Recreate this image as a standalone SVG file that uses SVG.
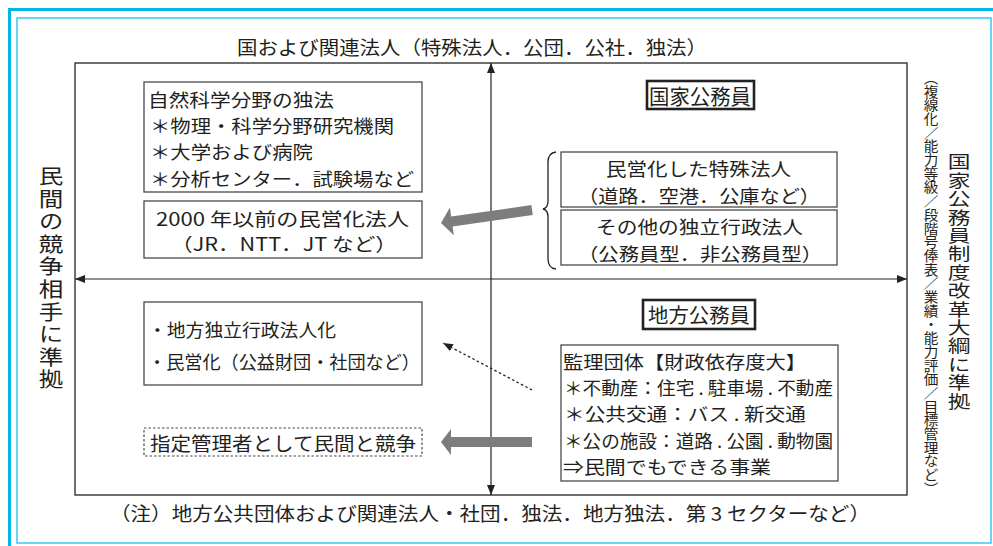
<svg xmlns="http://www.w3.org/2000/svg" width="993" height="546" viewBox="0 0 993 546">
<style>
text{font-family:"Noto Sans CJK JP","Noto Sans CJK SC",sans-serif;fill:#231f20}
.t18{font-size:18px}
.t19{font-size:19px}
.box{fill:#fff;stroke:#4a4a4a;stroke-width:1.3}
.dbox{fill:#fff;stroke:#4a4a4a;stroke-width:1.2;stroke-dasharray:2.5 2}
.lbl{fill:#fff;stroke:#222;stroke-width:2.6}
.axis{stroke:#222;stroke-width:1.2;fill:none}
.garrow{fill:#7d7d7d}
.vt{writing-mode:vertical-rl}
</style>
<defs>
<marker id="ah" viewBox="0 0 10 8" refX="10" refY="4" markerWidth="10" markerHeight="8" markerUnits="userSpaceOnUse" orient="auto-start-reverse">
<path d="M0,0 L10,4 L0,8 Z" fill="#222"/>
</marker>
</defs>
<rect width="993" height="546" fill="#fff"/>
<!-- frame -->
<rect x="9.5" y="9.5" width="1000" height="560" fill="none" stroke="#00b7ea" stroke-width="3"/>
<rect x="17" y="18" width="974" height="525" fill="none" stroke="#5cd0f2" stroke-width="1.8"/>
<!-- main rectangle -->
<rect x="75" y="63" width="832" height="432" fill="none" stroke="#333" stroke-width="1.4"/>

<g id="connectors">
<line class="axis" x1="491" y1="63" x2="491" y2="495" marker-start="url(#ah)" marker-end="url(#ah)"/>
<line class="axis" x1="75" y1="279" x2="907" y2="279" marker-start="url(#ah)" marker-end="url(#ah)"/>
<polygon class="garrow" transform="translate(441,223) rotate(-8.1)" points="0,0 11,-14 11,-5 92,-5 92,5 11,5 11,14"/>
<polygon class="garrow" points="441,442 451,429 451,437 532,437 532,447 451,447 451,455"/>
<line x1="532" y1="390" x2="443" y2="343" stroke="#222" stroke-width="1.3" stroke-dasharray="2.5 2.5" marker-end="url(#ah)"/>
<path d="M556,152 Q548,153 548,162 L548,201 Q548,208 543,209 Q548,210 548,217 L548,259 Q548,268 556,269" fill="none" stroke="#222" stroke-width="1.3"/>
</g>

<g id="title-top">
<text class="t19" x="237" y="55" textLength="470" lengthAdjust="spacingAndGlyphs">国および関連法人（特殊法人．公団．公社．独法）</text>
</g>
<g id="note-bottom">
<text class="t19" x="110" y="521" textLength="760" lengthAdjust="spacingAndGlyphs">（注）地方公共団体および関連法人・社団．独法．地方独法．第 3 セクターなど）</text>
</g>
<g id="label-left">
<text class="vt" style="font-size:20.5px;letter-spacing:2.1px" transform="translate(51,0) scale(1.2,1)" x="0" y="166">民間の競争相手に準拠</text>
</g>
<g id="label-right">
<text class="vt" style="font-size:17.5px;letter-spacing:0.9px" transform="translate(959,0) scale(1.3,1)" x="0" y="153">国家公務員制度改革大綱に準拠</text>
</g>
<g id="label-right-sub">
<text style="font-size:13.5px" text-anchor="middle" transform="translate(931,0) scale(1.08,1)" x="0 0 0 0 0 0 0 0 0 0 0 0 0 0 0 0 0 0 0 0 0 0 0 0 0 0 0 0 0 0 0" y="82.9 96.6 110.3 124 137.7 151.4 165.1 178.8 192.5 206.2 219.9 233.6 247.3 261 274.7 288.4 302.1 315.8 329.5 343.2 356.9 370.6 384.3 398 411.7 425.4 439.1 452.8 466.5 480.2 493.9">︵複線化／能力等級／段階号俸表／業績・能力評価／目標管理など︶</text>
</g>

<g id="node-natural-science">
<rect class="box" x="144" y="82" width="278" height="110"/>
<text class="t18" x="148" y="107" textLength="186" lengthAdjust="spacingAndGlyphs">自然科学分野の独法</text>
<text class="t18" x="150" y="133" textLength="244" lengthAdjust="spacingAndGlyphs">＊物理・科学分野研究機関</text>
<text class="t18" x="150" y="159" textLength="163" lengthAdjust="spacingAndGlyphs">＊大学および病院</text>
<text class="t18" x="150" y="186" textLength="264" lengthAdjust="spacingAndGlyphs">＊分析センター．試験場など</text>
</g>

<g id="node-privatized-2000">
<rect class="box" x="144" y="201" width="278" height="57"/>
<text class="t18" x="156" y="226" textLength="253" lengthAdjust="spacingAndGlyphs">2000 年以前の民営化法人</text>
<text class="t18" x="171" y="251" textLength="226" lengthAdjust="spacingAndGlyphs">（JR．NTT．JT など）</text>
</g>

<g id="node-national-label">
<rect class="lbl" x="647" y="81" width="107" height="28"/>
<text style="font-size:21px" x="649" y="104" textLength="102" lengthAdjust="spacingAndGlyphs">国家公務員</text>
</g>

<g id="node-special-corp">
<rect class="box" x="561" y="152" width="276" height="55"/>
<text class="t18" x="606" y="176" textLength="185" lengthAdjust="spacingAndGlyphs">民営化した特殊法人</text>
<text class="t18" x="578" y="203" textLength="242" lengthAdjust="spacingAndGlyphs">（道路．空港．公庫など）</text>
</g>

<g id="node-other-iai">
<rect class="box" x="561" y="210" width="276" height="55"/>
<text class="t18" x="596" y="234" textLength="207" lengthAdjust="spacingAndGlyphs">その他の独立行政法人</text>
<text class="t18" x="578" y="261" textLength="244" lengthAdjust="spacingAndGlyphs">（公務員型．非公務員型）</text>
</g>

<g id="node-local-label">
<rect class="lbl" x="643" y="300" width="112" height="29"/>
<text style="font-size:20px" x="648" y="323" textLength="102" lengthAdjust="spacingAndGlyphs">地方公務員</text>
</g>

<g id="node-managed-orgs">
<rect class="box" x="561" y="345" width="277" height="136"/>
<text class="t18" x="563" y="369" textLength="243" lengthAdjust="spacingAndGlyphs">監理団体【財政依存度大】</text>
<text class="t18" x="564" y="395" textLength="269" lengthAdjust="spacingAndGlyphs">＊不動産：住宅 . 駐車場 . 不動産</text>
<text class="t18" x="564" y="421" textLength="242" lengthAdjust="spacingAndGlyphs">＊公共交通：バス . 新交通</text>
<text class="t18" x="564" y="448" textLength="269" lengthAdjust="spacingAndGlyphs">＊公の施設：道路 . 公園 . 動物園</text>
<text class="t18" x="563" y="474" textLength="208" lengthAdjust="spacingAndGlyphs">⇒民間でもできる事業</text>
</g>

<g id="node-local-iai">
<rect class="box" x="144" y="302" width="278" height="83"/>
<text class="t18" x="148" y="337" textLength="188" lengthAdjust="spacingAndGlyphs">・地方独立行政法人化</text>
<text class="t18" x="148" y="369" textLength="272" lengthAdjust="spacingAndGlyphs">・民営化（公益財団・社団など）</text>
</g>

<g id="node-designated-manager">
<rect class="dbox" x="144" y="428" width="278" height="28"/>
<text class="t19" x="150" y="451" textLength="266" lengthAdjust="spacingAndGlyphs">指定管理者として民間と競争</text>
</g>
</svg>
